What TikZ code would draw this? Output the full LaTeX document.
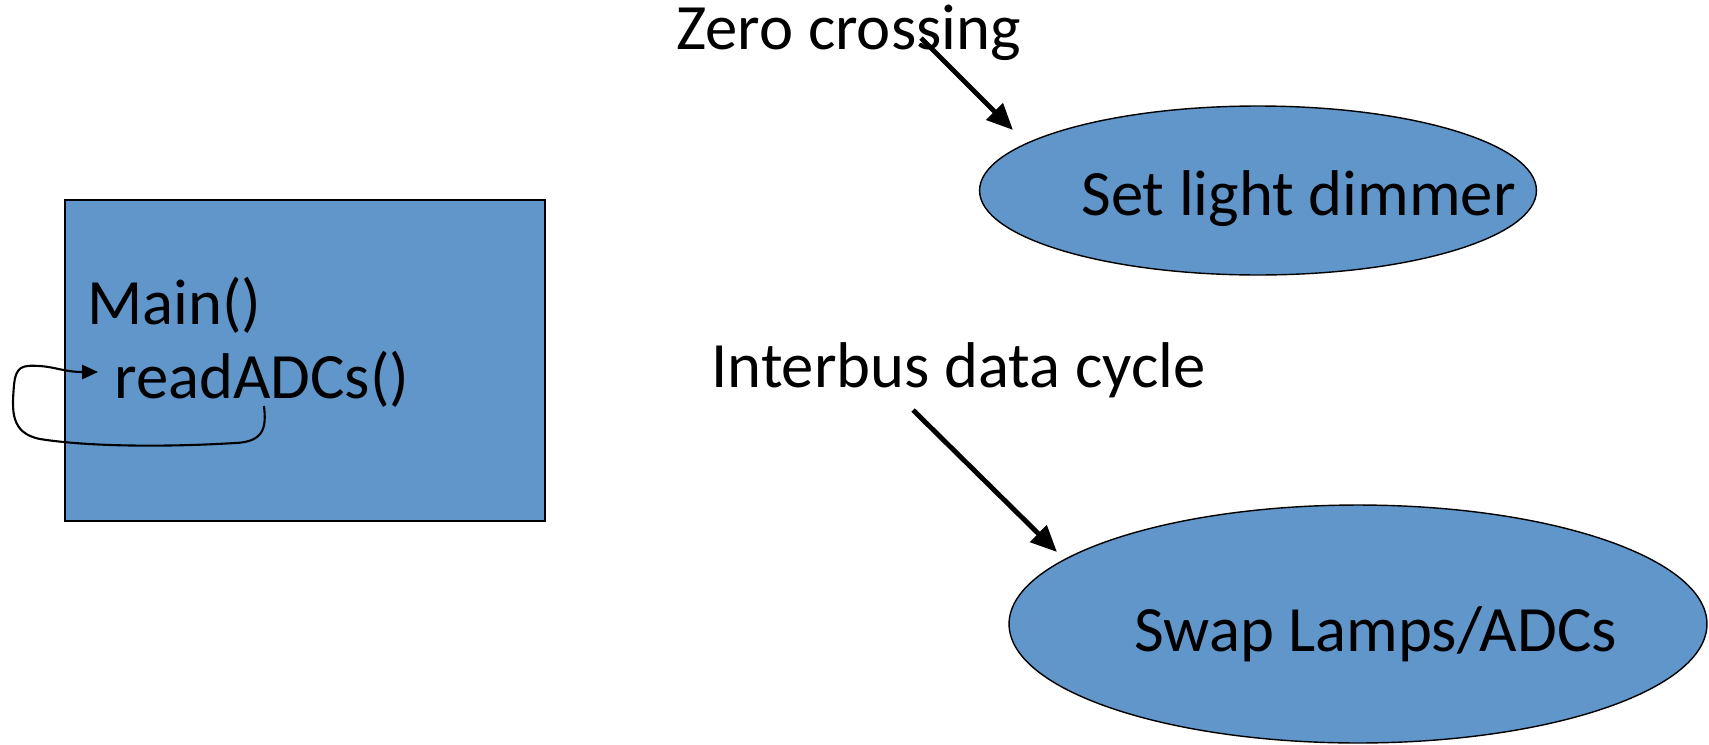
\documentclass[tikz,border=0pt]{standalone}
\usepackage{fontspec}
\setmainfont{Carlito}
\usetikzlibrary{arrows.meta,shapes.geometric}
\definecolor{boxblue}{HTML}{6096CA}
\begin{document}
\begin{tikzpicture}[x=0.02cm,y=-0.02cm,
  lbl/.style={inner sep=0pt,anchor=base west,font=\fontsize{36.8}{40}\selectfont},
  shapebox/.style={draw=black,line width=0.8pt,fill=boxblue},
  bigarrow/.style={line width=2.8pt,-{Triangle[length=15pt,width=13pt]}},
  loop/.style={line width=1.2pt,-{Triangle[length=9pt,width=8pt]}}]
\useasboundingbox (0,0) rectangle (1709,744);
\node[shapebox,rectangle,minimum width=9.6cm,minimum height=6.42cm,inner sep=0pt] (main) at (305,360.5) {};
\node[shapebox,ellipse,minimum width=11.14cm,minimum height=3.38cm,inner sep=0pt] (dim) at (1258,190.5) {};
\node[shapebox,ellipse,minimum width=13.96cm,minimum height=4.76cm,inner sep=0pt] (swap) at (1358,624) {};
\node[lbl] (zc) at (676,49) {Zero crossing};
\node[lbl] (ib) at (711,387) {Interbus data cycle};
\node[lbl] (dimt) at (1081,215) {Set light dimmer};
\node[lbl] (swapt) at (1134,651) {Swap Lamps/ADCs};
\node[lbl] (mt) at (87,324) {Main()};
\node[lbl] (rt) at (114,398) {readADCs()};
\coordinate (zs) at (921,38);
\coordinate (ze) at (1013,130);
\coordinate (is) at (913,410);
\coordinate (ie) at (1057,552);
\draw[bigarrow] (zs) -- (ze);
\draw[bigarrow] (is) -- (ie);
\coordinate (ls) at (264,406);
\coordinate (le) at (98,372);
\draw[loop] (ls) .. controls (266,425) and (266,442) .. (235,443)
  .. controls (170,447) and (90,447) .. (40,439)
  .. controls (10,433) and (12,410) .. (14,385)
  .. controls (16,366) and (22,365) .. (40,366)
  .. controls (55,367) and (65,372) .. (le);
\end{tikzpicture}
\end{document}
